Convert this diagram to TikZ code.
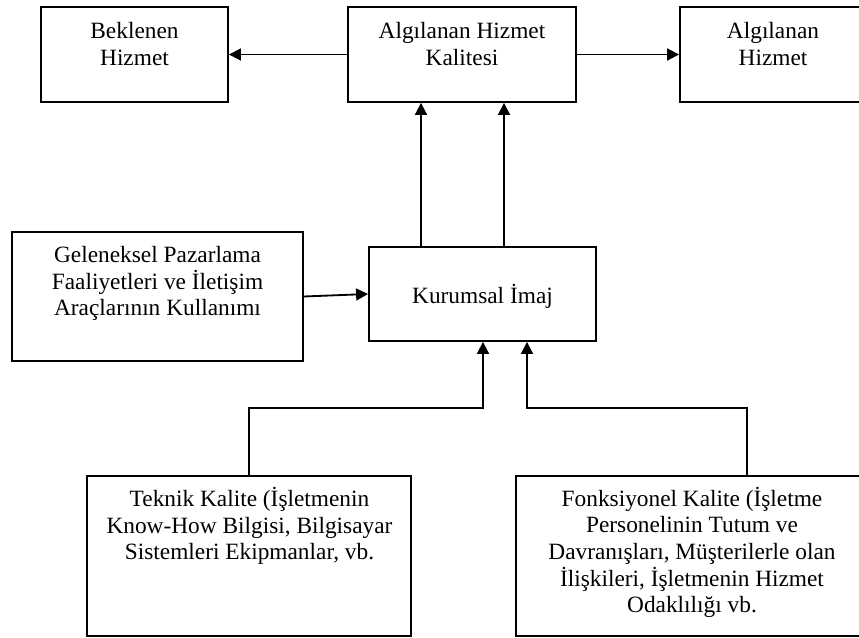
\documentclass[tikz,border=0pt]{standalone}
\usepackage{fontspec}
\setmainfont{Liberation Serif}
\usetikzlibrary{arrows.meta}

\begin{document}
\begin{tikzpicture}[>={Triangle[length=8.5pt, width=8.5pt]}, x=0.025cm, y=-0.025cm, line width=1.3pt,
	box/.style={draw, inner sep=0pt},
	txt/.style={align=center, inner sep=0pt, font=\fontsize{16.6}{18.95}\selectfont}]
		\useasboundingbox (0,0) rectangle (859,637);
		\node [box, minimum width=4.675cm, minimum height=2.375cm] (1) at (134.5, 54.5) {};
		\node [box, minimum width=5.7cm, minimum height=2.375cm] (2) at (462, 54.5) {};
		\node [box, minimum width=4.65cm, minimum height=2.375cm] (3) at (773, 54.5) {};
		\node [box, minimum width=7.275cm, minimum height=3.225cm] (4) at (157.5, 296.5) {};
		\node [box, minimum width=5.675cm, minimum height=2.35cm] (5) at (482.5, 294) {};
		\node [box, minimum width=8.1cm, minimum height=4cm] (6) at (249, 556) {};
		\node [box, minimum width=8.8cm, minimum height=4cm] (7) at (692, 556) {};
		\node [txt] (11) at (134.5, 44) {Beklenen\\Hizmet};
		\node [txt] (12) at (462, 44) {Algılanan Hizmet\\Kalitesi};
		\node [txt] (13) at (773, 44) {Algılanan\\Hizmet};
		\node [txt] (14) at (157.5, 283.6) {Geleneksel Pazarlama\\Faaliyetleri ve İletişim\\Araçlarının Kullanımı};
		\node [txt] (15) at (482.5, 296) {Kurumsal İmaj};
		\node [txt] (16) at (249.5, 526) {Teknik Kalite (İşletmenin\\Know-How Bilgisi, Bilgisayar\\Sistemleri Ekipmanlar, vb.};
		\node [txt] (17) at (692, 552.5) {Fonksiyonel Kalite (İşletme\\Personelinin Tutum ve\\Davranışları, Müşterilerle olan\\İlişkileri, İşletmenin Hizmet\\Odaklılığı vb.};
		\coordinate (21) at (421, 0);
		\coordinate (22) at (504, 0);
		\coordinate (23) at (483, 408);
		\coordinate (24) at (747, 0);
		\coordinate (25) at (527, 408);
		\draw [->] (2.west) to (1.east);
		\draw [->] (2.east) to (3.west);
		\draw [->] (5.north -| 21) to (2.south -| 21);
		\draw [->] (5.north -| 22) to (2.south -| 22);
		\draw [->] (4.east) to (5.west);
		\draw [->] (6.north) |- (23) -- (23 |- 5.south);
		\draw [->] (7.north -| 24) |- (25) -- (25 |- 5.south);
\end{tikzpicture}
\end{document}
